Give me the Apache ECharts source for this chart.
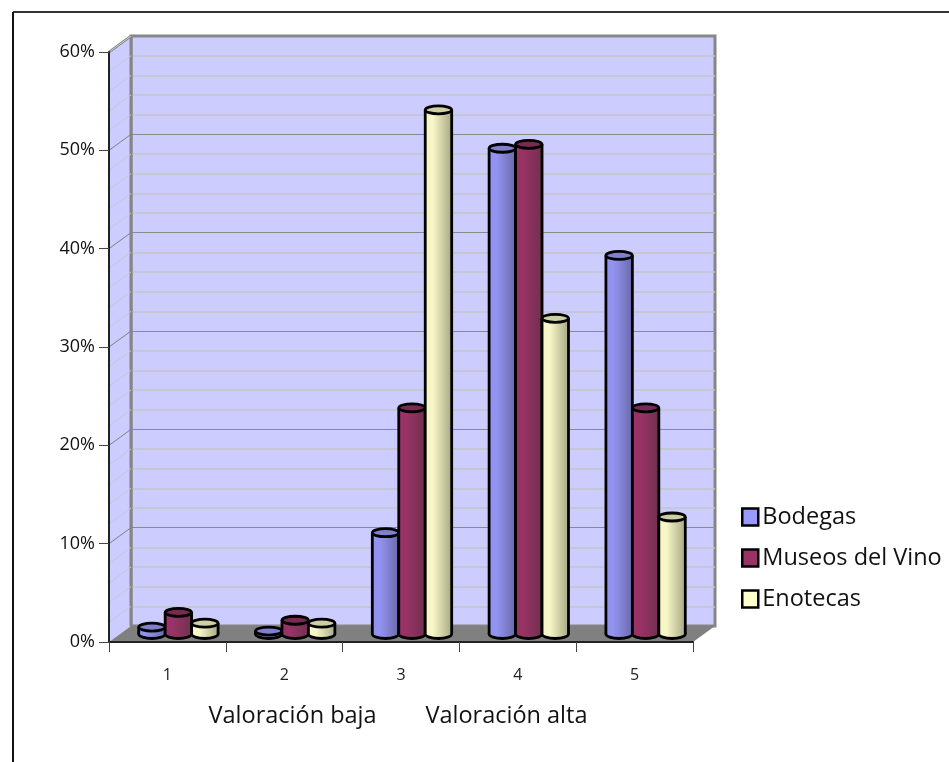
<!DOCTYPE html>
<html>
<head>
<meta charset="utf-8">
<title>Valoración</title>
<script src="https://cdn.jsdelivr.net/npm/echarts@6/dist/echarts.min.js"></script>
<style>
html, body { margin: 0; padding: 0; background: #fff; }
#chart { width: 949px; height: 762px; }
</style>
</head>
<body>
<div id="chart"></div>
<script>
var categories = ['1', '2', '3', '4', '5']
var bodegas = [0.7, 0.3, 10.3, 49.4, 38.5]
var museos = [2.2, 1.4, 23, 49.8, 23]
var enotecas = [1.1, 1.1, 53.3, 32.1, 11.9]
var yTicks = [2, 4, 6, 8, 10, 12, 14, 16, 18, 20, 22, 24, 26, 28, 30, 32, 34, 36, 38, 40, 42, 44, 46, 48, 50, 52, 54, 56, 58, 60]
var majorTicks = [10, 20, 30, 40, 50]
var axisTitle = 'Valoración baja        Valoración alta'

var FONT = 'Open Sans'
var DEPTH_X = 22
var DEPTH_Y = 16

var palette = {
  Bodegas: { light: '#9292f0', dark: '#6a6aaa', top: '#8080cc', legend: '#9999ff' },
  'Museos del Vino': { light: '#993366', dark: '#70304f', top: '#7a2a52', legend: '#993366' },
  Enotecas: { light: '#f6f6c6', dark: '#a8a886', top: '#cfcfa6', legend: '#ffffcc' }
}

// cylinder drawn from the axes of the bar grid, slot is -1, 0 or 1 inside the category
function cylinder (name, slot) {
  var colors = palette[name]
  return function (params, api) {
    var catWidth = api.size([1, 0])[0]
    var barWidth = catWidth * 0.2265
    var top = api.coord([api.value(0), api.value(1)])
    var base = api.coord([api.value(0), 0])
    var x0 = top[0] + (slot - 0.5) * barWidth
    var x1 = x0 + barWidth
    var rx = barWidth / 2
    var ry = 4
    var cx = x0 + rx
    var fill = new echarts.graphic.LinearGradient(0, 0, 1, 0, [
      { offset: 0, color: colors.light },
      { offset: 0.3, color: colors.light },
      { offset: 1, color: colors.dark }
    ])
    var edge = { stroke: '#000', lineWidth: 2.8 }
    return {
      type: 'group',
      children: [
        { type: 'ellipse', shape: { cx: cx, cy: base[1], rx: rx, ry: ry + 0.5 }, style: { fill: fill, stroke: '#000', lineWidth: 2.8 } },
        { type: 'rect', shape: { x: x0, y: top[1], width: barWidth, height: base[1] - top[1] }, style: { fill: fill } },
        { type: 'line', shape: { x1: x0, y1: top[1], x2: x0, y2: base[1] }, style: edge },
        { type: 'line', shape: { x1: x1, y1: top[1], x2: x1, y2: base[1] }, style: edge },
        { type: 'ellipse', shape: { cx: cx, cy: top[1], rx: rx, ry: ry }, style: { fill: colors.top, stroke: '#000', lineWidth: 2.8 } }
      ]
    }
  }
}

function barSeries (name, values, slot) {
  return {
    name: name,
    type: 'custom',
    xAxisIndex: 2,
    yAxisIndex: 2,
    z: 4,
    clip: false,
    renderItem: cylinder(name, slot),
    encode: { x: 0, y: 1 },
    data: categories.map(function (c, i) { return [i, values[i]] })
  }
}

function legendItem (name) {
  return {
    name: name,
    icon: 'rect',
    itemStyle: { color: palette[name].legend, borderColor: '#000', borderWidth: 2.5 }
  }
}

var chart = echarts.init(document.getElementById('chart'))

var option = {
  animation: false,
  backgroundColor: '#fff',
  textStyle: { fontFamily: FONT },
  graphic: [
    { type: 'line', silent: true, shape: { x1: 13, y1: 12, x2: 949, y2: 12 }, style: { stroke: '#333', lineWidth: 2 } },
    { type: 'line', silent: true, shape: { x1: 13, y1: 12, x2: 13, y2: 762 }, style: { stroke: '#111', lineWidth: 2 } }
  ],
  legend: {
    orient: 'vertical',
    left: 736,
    top: 500,
    itemWidth: 16,
    itemHeight: 17,
    itemGap: 17,
    selectedMode: false,
    textStyle: { fontFamily: FONT, fontSize: 23.5, color: '#111', padding: [0, 0, 0, -1] },
    data: [legendItem('Bodegas'), legendItem('Museos del Vino'), legendItem('Enotecas')]
  },
  grid: [
    { left: 109, top: 52, width: 584, height: 590, containLabel: false },
    {
      left: 109 + DEPTH_X, top: 52 - DEPTH_Y, width: 584, height: 590,
      show: true, backgroundColor: '#ccccff', borderColor: '#858585', borderWidth: 3
    },
    { left: 109 + DEPTH_X / 2, top: 52 - DEPTH_Y / 2, width: 584, height: 590 }
  ],
  xAxis: [
    {
      gridIndex: 0,
      type: 'category',
      data: categories,
      z: 6,
      axisLine: { lineStyle: { color: '#222', width: 2 } },
      axisTick: { show: true, length: 10, lineStyle: { color: '#444', width: 1 } },
      axisLabel: { color: '#222', fontSize: 16, margin: 25, fontFamily: FONT },
      name: axisTitle,
      nameLocation: 'middle',
      nameGap: 62,
      nameTextStyle: { color: '#111', fontSize: 23.5, fontFamily: FONT, padding: [0, 6, 0, 0] }
    },
    { gridIndex: 1, type: 'category', data: categories, show: false },
    { gridIndex: 2, type: 'category', data: categories, show: false }
  ],
  yAxis: [
    {
      gridIndex: 0,
      type: 'value',
      min: 0,
      max: 60,
      interval: 10,
      z: 6,
      splitLine: { show: false },
      axisLine: { show: true, lineStyle: { color: '#222', width: 2 } },
      axisTick: { show: true, length: 10, lineStyle: { color: '#444', width: 1 } },
      axisLabel: { color: '#111', fontSize: 18, margin: 14, fontFamily: FONT, formatter: '{value}%' }
    },
    {
      gridIndex: 1,
      type: 'value',
      min: 0,
      max: 60,
      interval: 10,
      axisLine: { show: false },
      axisTick: { show: false },
      axisLabel: { show: false },
      splitLine: { lineStyle: { color: '#8a8a8a', width: 1 } },
      minorTick: { show: false, splitNumber: 5 },
      minorSplitLine: { show: true, lineStyle: { color: '#c4c4c8', width: 1.5 } }
    },
    { gridIndex: 2, type: 'value', min: 0, max: 60, show: false }
  ],
  series: [
    {
      // left wall, floor and the front edge of the top of the wall
      type: 'custom',
      xAxisIndex: 0,
      yAxisIndex: 0,
      z: 2,
      silent: true,
      clip: false,
      legendHoverLink: false,
      data: [[0, 0]],
      renderItem: function (params, api) {
        var cs = params.coordSys
        var l = cs.x
        var t = cs.y
        var r = cs.x + cs.width
        var b = cs.y + cs.height
        return {
          type: 'group',
          children: [
            { type: 'polygon', shape: { points: [[l, t], [l + DEPTH_X, t - DEPTH_Y], [l + DEPTH_X, b - DEPTH_Y], [l, b]] }, style: { fill: '#ccccff' } },
            { type: 'polygon', shape: { points: [[l, b], [l + DEPTH_X, b - DEPTH_Y], [r + DEPTH_X, b - DEPTH_Y], [r, b]] }, style: { fill: '#808080' } },
            { type: 'line', shape: { x1: l, y1: t, x2: l + DEPTH_X, y2: t - DEPTH_Y }, style: { stroke: '#858585', lineWidth: 2.5 } },
            { type: 'line', shape: { x1: l + DEPTH_X, y1: t - DEPTH_Y, x2: l + DEPTH_X, y2: b - DEPTH_Y }, style: { stroke: '#858585', lineWidth: 3 } }
          ]
        }
      }
    },
    {
      // grid lines carried across the left wall
      type: 'custom',
      xAxisIndex: 0,
      yAxisIndex: 0,
      z: 3,
      silent: true,
      clip: false,
      data: yTicks.map(function (v) { return [0, v] }),
      renderItem: function (params, api) {
        var v = api.value(1)
        var y = api.coord([0, v])[1]
        var l = params.coordSys.x
        return {
          type: 'line',
          shape: { x1: l, y1: y, x2: l + DEPTH_X, y2: y - DEPTH_Y },
          style: { stroke: majorTicks.indexOf(v) >= 0 ? '#808080' : '#c8c8d0', lineWidth: 1 }
        }
      }
    },
    barSeries('Bodegas', bodegas, -1),
    barSeries('Museos del Vino', museos, 0),
    barSeries('Enotecas', enotecas, 1)
  ]
}

chart.setOption(option)
</script>
</body>
</html>
